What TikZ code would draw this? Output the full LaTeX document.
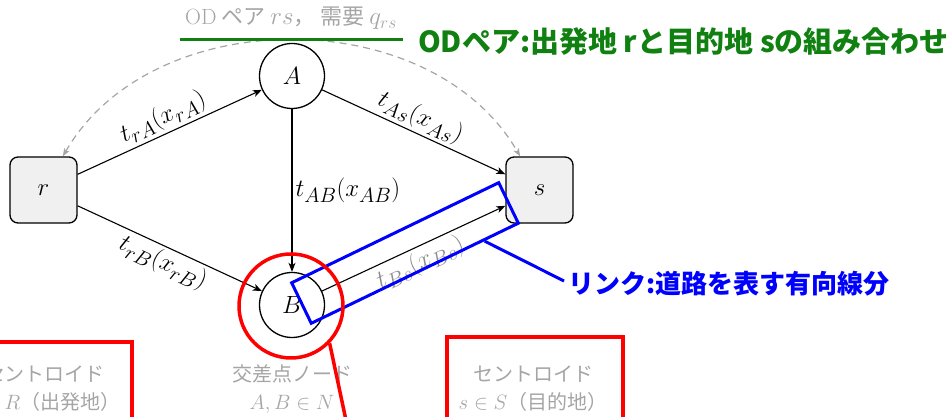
\documentclass[tikz,border=0pt]{standalone}
\usepackage{fontspec}
\newfontfamily\jp{Noto Sans CJK JP}
\usetikzlibrary{arrows.meta,calc}
\DeclareMathSizes{25}{25}{20}{15}
\DeclareMathSizes{20}{22}{17}{13}
\DeclareMathSizes{22}{23}{18}{14}
\definecolor{odgreen}{RGB}{16,128,16}
\definecolor{faint}{RGB}{165,165,165}
\tikzset{
  lbl/.style={font=\fontsize{25}{28}\selectfont},
  inter/.style={circle, draw, line width=1.3pt, minimum size=65pt, inner sep=0pt, lbl},
  centroid/.style={rectangle, rounded corners=8pt, draw, fill=black!6, line width=1.3pt, minimum width=67pt, minimum height=66pt, lbl},
  linkarrow/.style={-{Stealth[length=9pt,width=7pt,inset=2.5pt]}, line width=1.1pt},
  linklabel/.style={midway, sloped, inner sep=3pt, lbl},
  graytext/.style={text=faint, align=center, font=\jp\fontsize{20}{28}\selectfont},
  odarc/.style={faint, line width=1.2pt, dash pattern=on 7pt off 5pt, {Stealth[length=8pt,width=6pt,inset=2pt]}-{Stealth[length=8pt,width=6pt,inset=2pt]}},
  redmark/.style={draw=red, line width=3.5pt},
  bluemark/.style={draw=blue, line width=3pt},
  notegreen/.style={text=odgreen, font=\jp\bfseries\fontsize{29}{32}\selectfont, inner sep=0pt},
  noteblue/.style={text=blue, font=\jp\bfseries\fontsize{26}{30}\selectfont, inner sep=0pt}
}
\begin{document}
\begin{tikzpicture}[x=1pt,y=1pt]
\useasboundingbox (0,0) rectangle (951,417);
\clip (0,0) rectangle (951,417);

% network
\node[inter] (A) at (292,341) {$A$};
\node[inter] (B) at (292,112) {$B$};
\node[centroid] (r) at (43.5,227) {$r$};
\node[centroid] (s) at (539.5,227) {$s$};

\draw[linkarrow] (r) -- (A) node[linklabel, above] {$t_{rA}(x_{rA})$};
\draw[linkarrow] (r) -- (B) node[linklabel, below] {$t_{rB}(x_{rB})$};
\draw[linkarrow] (A) -- (s) node[linklabel, above] {$t_{As}(x_{As})$};
\draw[linkarrow] (B) -- (s) node[linklabel, below, text=black!45] {$t_{Bs}(x_{Bs})$};
\draw[linkarrow] (A) -- (B) node[midway, right, inner sep=3pt, lbl] {$t_{AB}(x_{AB})$};

\draw[odarc] (r) to[bend left=60, looseness=1.0] (s);

% texts
\node[graytext, font=\jp\fontsize{22}{26}\selectfont] (odtitle) at (291,399) {{\rmfamily OD}\ ペア\ $rs$，\ 需要\ $q_{rs}$};
\node[graytext] (interlbl) at (292,28) {交差点ノード\\$A,B\in N$};
\node[graytext] (origlbl) at (45,28) {セントロイド\\$r\in R$（出発地）};
\node[graytext] (destlbl) at (533,28) {セントロイド\\$s\in S$（目的地）};

% annotations
\coordinate (odL) at (180,377);
\coordinate (odR) at (403,377);
\draw[odgreen, line width=3pt] (odL) -- (odR);
\node[notegreen, anchor=west] (odnote) at (418,375) {ODペア:出発地 rと目的地 sの組み合わせ};

\node[bluemark, rotate=25.8, minimum width=230pt, minimum height=45pt, inner sep=0pt] (linkbox) at (405,164) {};
\node[noteblue, anchor=west] (linknote) at (568,133) {リンク:道路を表す有向線分};
\draw[bluemark] ($(linkbox.south west)!0.83!(linkbox.south east)$) -- ($(linknote.west)+(-4,3)$);

\node[redmark, circle, minimum size=104pt, inner sep=0pt] (ring) at (291,111) {};
\coordinate (ringtail) at (347,-8);
\draw[redmark] (ring.-44) -- (ringtail);
\draw[redmark] (447,-10) rectangle (623,80);
\draw[redmark] (-50,-10) rectangle (132,75);
\end{tikzpicture}
\end{document}
